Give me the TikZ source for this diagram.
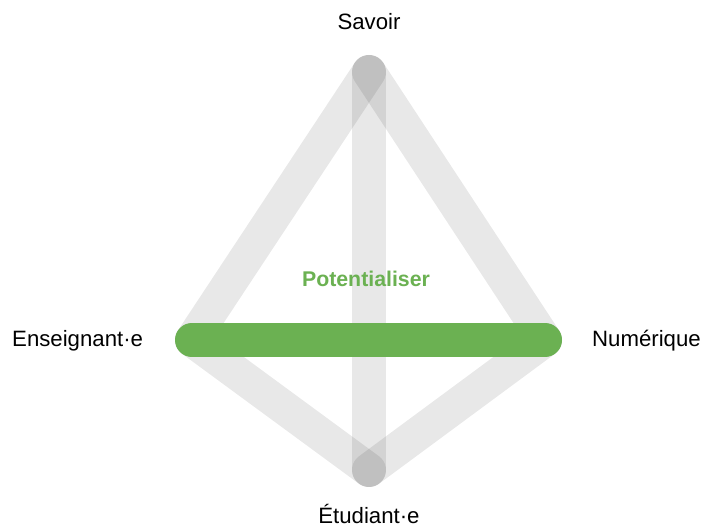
\documentclass[tikz,border=0pt]{standalone}
\usepackage{fontspec}
\setmainfont{Liberation Sans}
\definecolor{leaf}{RGB}{107,177,82}
\begin{document}
\begin{tikzpicture}[x=1pt,y=1pt,
  link/.style={line width=34pt,line cap=round,draw=black,draw opacity=0.09},
  focus/.style={line width=34pt,line cap=round,draw=leaf},
  lbl/.style={font=\fontsize{22.2}{24}\selectfont,inner sep=0pt,anchor=base}]
\useasboundingbox (0,0) rectangle (701,529);
% points (y flipped: 529 - pixel y)
\coordinate (S) at (369,457);
\coordinate (E) at (192,189);
\coordinate (N) at (545,189);
\coordinate (T) at (369,59);
% grey links
\draw[link] (S) -- (E);
\draw[link] (S) -- (N);
\draw[link] (S) -- (T);
\draw[link] (E) -- (T);
\draw[link] (N) -- (T);
% highlighted link
\draw[focus] (E) -- (N);
% labels
\node[lbl] (savoir) at (369,499) {Savoir};
\node[lbl,anchor=base west] (ens) at (12,182) {Enseignant·e};
\node[lbl,anchor=base west] (num) at (592,182) {Numérique};
\node[lbl] (etu) at (369,5) {Étudiant·e};
\node[lbl,font=\fontsize{21.3}{24}\selectfont\bfseries,text=leaf] (pot) at (366,242) {Potentialiser};
\end{tikzpicture}
\end{document}
